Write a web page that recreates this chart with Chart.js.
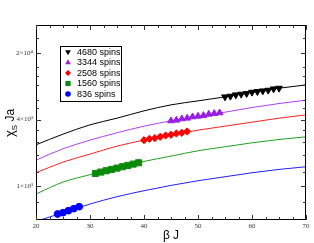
<!DOCTYPE html>
<html>
<head>
<meta charset="utf-8">
<script src="https://cdn.jsdelivr.net/npm/chart.js@4.4.0/dist/chart.umd.min.js"></script>
<style>
  body { margin: 0; background: #fff; }
  canvas { display: block; }
</style>
</head>
<body>
<canvas id="chiChart" width="314" height="243"></canvas>
<script>
'use strict';

// series (legend order)
const seriesNames = ['4680 spins', '3344 spins', '2508 spins', '1560 spins', '836 spins'];
const markerColors = ['#000000', '#9a1ee6', '#ff0000', '#0a8a0a', '#0000ff'];
const lineColors = ['#000000', '#b040f0', '#ff2020', '#20a020', '#2020ff'];
const pointStyles = ['triangle', 'triangle', 'rectRot', 'rect', 'circle'];
const pointRotations = [180, 0, 0, 0, 0];
const pointSizes = [3.9, 3.9, 3.6, 4.3, 3.4];

// y axis is in "decade position" units: 1 -> 1x10^3, 2 -> 4x10^3, 3 -> 2x10^4
const yTickValues = [1, 2, 3];
const yTickLabels = ['1×10³', '4×10³', '2×10⁴'];
const yMinorTicks = [0.76, 1.21, 1.47, 1.66, 1.84, 2.17, 2.29, 2.52, 2.65, 2.79, 3.23];
const xTickValues = [20, 30, 40, 50, 60, 70];
const xMinorTicks = [22.5, 25, 27.5, 32.5, 35, 37.5, 42.5, 45, 47.5, 52.5, 55, 57.5, 62.5, 65, 67.5];

// fitted curves
const curveX = [20, 25, 30, 35, 40, 45, 50, 55, 60, 65, 70];
const curve4680 = [1.62, 1.78, 1.92, 2.02, 2.13, 2.22, 2.28, 2.34, 2.41, 2.47, 2.52];
const curve3344 = [1.39, 1.56, 1.69, 1.80, 1.90, 1.98, 2.05, 2.11, 2.18, 2.24, 2.29];
const curve2508 = [1.20, 1.36, 1.48, 1.60, 1.69, 1.77, 1.84, 1.90, 1.96, 2.02, 2.07];
const curve1560 = [0.88, 1.06, 1.17, 1.27, 1.37, 1.45, 1.53, 1.59, 1.65, 1.70, 1.74];
const curve836 = [0.47, 0.60, 0.73, 0.84, 0.93, 1.01, 1.08, 1.14, 1.20, 1.25, 1.29];

// simulation points
const beta4680 = [55, 56, 57, 58, 59, 60, 61, 62, 63, 64, 65];
const chi4680 = [2.34, 2.35, 2.37, 2.38, 2.39, 2.41, 2.42, 2.43, 2.44, 2.46, 2.47];
const beta3344 = [45, 46, 47, 48, 49, 50, 51, 52, 53, 54];
const chi3344 = [1.98, 1.99, 2.01, 2.02, 2.04, 2.05, 2.06, 2.08, 2.09, 2.10];
const beta2508 = [40, 41, 42, 43, 44, 45, 46, 47, 48];
const chi2508 = [1.69, 1.71, 1.72, 1.74, 1.76, 1.77, 1.79, 1.80, 1.82];
const beta1560 = [31, 32, 33, 34, 35, 36, 37, 38, 39];
const chi1560 = [1.19, 1.21, 1.23, 1.25, 1.27, 1.29, 1.31, 1.33, 1.35];
const beta836 = [24, 25, 26, 27, 28];
const chi836 = [0.58, 0.60, 0.63, 0.66, 0.69];

document.addEventListener('DOMContentLoaded', function () {
    const curves = [curve4680, curve3344, curve2508, curve1560, curve836];
    const betas = [beta4680, beta3344, beta2508, beta1560, beta836];
    const chis = [chi4680, chi3344, chi2508, chi1560, chi836];

    const datasets = [];
    curves.forEach((c, i) => {
        datasets.push({
            data: curveX.map((x, k) => ({ x: x, y: c[k] })),
            borderColor: lineColors[i],
            borderWidth: 1,
            pointRadius: 0,
            tension: 0.4,
            cubicInterpolationMode: 'monotone',
            order: 2
        });
    });
    betas.forEach((b, i) => {
        datasets.push({
            data: b.map((x, k) => ({ x: x, y: chis[i][k] })),
            showLine: false,
            pointStyle: pointStyles[i],
            rotation: pointRotations[i],
            pointRadius: pointSizes[i],
            backgroundColor: markerColors[i],
            borderColor: markerColors[i],
            borderWidth: 1,
            order: 1
        });
    });

    // small marker painter for the legend box
    function drawMarker(ctx, style, rot, x, y, r, color) {
        ctx.save();
        ctx.fillStyle = color;
        ctx.beginPath();
        if (style === 'triangle') {
            let a = rot * Math.PI / 180;
            ctx.moveTo(x + Math.sin(a) * r, y - Math.cos(a) * r);
            for (let k = 0; k < 2; k++) {
                a += 2 * Math.PI / 3;
                ctx.lineTo(x + Math.sin(a) * r, y - Math.cos(a) * r);
            }
        } else if (style === 'rect') {
            const s = r * Math.SQRT1_2;
            ctx.rect(x - s, y - s, 2 * s, 2 * s);
        } else if (style === 'rectRot') {
            ctx.moveTo(x, y - r);
            ctx.lineTo(x + r, y);
            ctx.lineTo(x, y + r);
            ctx.lineTo(x - r, y);
        } else {
            ctx.arc(x, y, r, 0, Math.PI * 2);
        }
        ctx.closePath();
        ctx.fill();
        ctx.restore();
    }

    const framePlugin = {
        id: 'frameTicks',
        afterDraw(chart) {
            const ctx = chart.ctx;
            const a = chart.chartArea;
            const xs = chart.scales.x;
            const ys = chart.scales.y;
            ctx.save();
            ctx.strokeStyle = '#000';
            ctx.lineWidth = 1;
            ctx.strokeRect(a.left + 0.5, a.top + 0.5, a.right - a.left - 1, a.bottom - a.top - 1);

            ctx.strokeStyle = '#333';
            function xTick(v, len) {
                const px = Math.round(xs.getPixelForValue(v)) + 0.5;
                ctx.beginPath();
                ctx.moveTo(px, a.bottom); ctx.lineTo(px, a.bottom - len);
                ctx.moveTo(px, a.top); ctx.lineTo(px, a.top + len);
                ctx.stroke();
            }
            function yTick(v, len) {
                const py = Math.round(ys.getPixelForValue(v)) + 0.5;
                ctx.beginPath();
                ctx.moveTo(a.left, py); ctx.lineTo(a.left + len, py);
                ctx.moveTo(a.right, py); ctx.lineTo(a.right - len, py);
                ctx.stroke();
            }
            xTickValues.forEach(v => xTick(v, 5));
            xMinorTicks.forEach(v => xTick(v, 3));
            yTickValues.forEach(v => yTick(v, 5));
            yMinorTicks.forEach(v => yTick(v, 3));

            // legend box
            const lx = 60, ly = 46, lw = 61, lh = 55;
            ctx.fillStyle = '#fff';
            ctx.fillRect(lx, ly, lw, lh);
            ctx.strokeStyle = '#000';
            ctx.strokeRect(lx + 0.5, ly + 0.5, lw, lh);
            ctx.font = '9px "Liberation Sans", Arial, sans-serif';
            ctx.textBaseline = 'middle';
            ctx.textAlign = 'left';
            seriesNames.forEach((name, i) => {
                const ry = 52 + i * 10.5;
                drawMarker(ctx, pointStyles[i], pointRotations[i], 68, ry, pointSizes[i] - 0.6, markerColors[i]);
                ctx.fillStyle = '#000';
                ctx.fillText(name, 77, ry + 0.5);
            });

            // axis titles
            ctx.fillStyle = '#000';
            ctx.textBaseline = 'alphabetic';
            ctx.textAlign = 'center';
            ctx.font = '12px "Liberation Sans", Arial, sans-serif';
            ctx.fillText('β J', (a.left + a.right) / 2, 239);

            ctx.translate(14, 123);
            ctx.rotate(-Math.PI / 2);
            const f1 = '13px "Liberation Sans", Arial, sans-serif';
            const f2 = '8px "Liberation Sans", Arial, sans-serif';
            const f3 = '12px "Liberation Sans", Arial, sans-serif';
            ctx.textAlign = 'left';
            ctx.font = f1; const w1 = ctx.measureText('χ').width;
            ctx.font = f2; const w2 = ctx.measureText('S').width;
            ctx.font = f3; const w3 = ctx.measureText(' Ja').width;
            let tx = -(w1 + w2 + w3) / 2;
            ctx.font = f1; ctx.fillText('χ', tx, 0); tx += w1;
            ctx.font = f2; ctx.fillText('S', tx, 3); tx += w2;
            ctx.font = f3; ctx.fillText(' Ja', tx, 0);
            ctx.restore();
        }
    };

    const tickFont = { family: '"Liberation Serif", "Times New Roman", serif', size: 7 };

    new Chart(document.getElementById('chiChart'), {
        type: 'line',
        data: { datasets: datasets },
        options: {
            responsive: false,
            animation: false,
            layout: { padding: { top: 25, right: 8, left: 0, bottom: 0 } },
            plugins: { legend: { display: false }, tooltip: { enabled: false } },
            scales: {
                x: {
                    type: 'linear',
                    min: 20,
                    max: 70,
                    grid: { display: false, drawTicks: false },
                    border: { display: false },
                    ticks: { font: tickFont, color: '#333', padding: 2, maxRotation: 0 },
                    afterBuildTicks: s => { s.ticks = xTickValues.map(v => ({ value: v })); },
                    afterFit: s => { s.height = 23; }
                },
                y: {
                    type: 'linear',
                    min: 0.49,
                    max: 3.42,
                    grid: { display: false, drawTicks: false },
                    border: { display: false },
                    ticks: {
                        font: tickFont,
                        color: '#333',
                        padding: 3,
                        callback: v => yTickLabels[yTickValues.indexOf(v)]
                    },
                    afterBuildTicks: s => { s.ticks = yTickValues.map(v => ({ value: v })); },
                    afterFit: s => { s.height = undefined; s.width = 36; }
                }
            }
        },
        plugins: [framePlugin]
    });
});
</script>
</body>
</html>
